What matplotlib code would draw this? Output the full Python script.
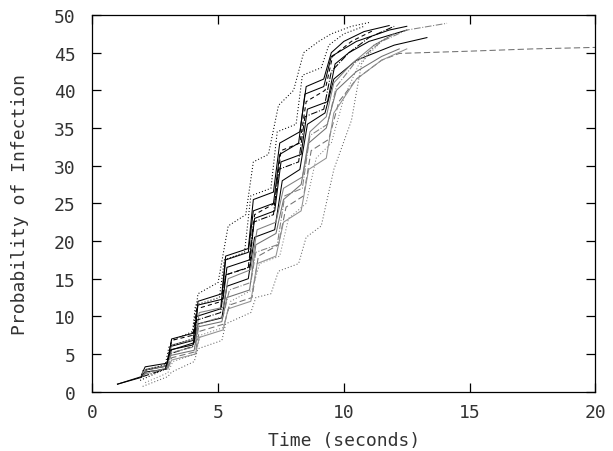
import matplotlib
matplotlib.use('Agg')
import matplotlib.pyplot as plt

# each run: time points and probability values
runs = [
    # (x, y, color, linestyle)
    ([1.0, 1.95, 2.15, 2.95, 3.15, 4.0, 4.2, 5.15, 5.35, 6.2, 6.45, 7.25, 7.55, 8.25, 8.55, 9.25, 9.6, 10.5, 12.0, 13.3],
     [1.0, 2.0, 2.9, 3.4, 5.6, 6.2, 9.0, 9.8, 14.0, 15.0, 20.5, 21.5, 28.0, 29.5, 35.5, 37.0, 41.5, 44.0, 46.0, 47.0],
     'black', '-'),
    ([1.0, 1.95, 2.1, 2.95, 3.1, 4.0, 4.15, 5.1, 5.3, 6.2, 6.4, 7.2, 7.45, 8.2, 8.45, 9.2, 9.5, 10.5, 11.8, 12.5],
     [1.0, 1.9, 2.6, 3.0, 6.0, 6.8, 10.0, 11.0, 17.5, 18.5, 24.0, 25.0, 31.5, 33.0, 39.5, 40.5, 44.5, 46.5, 48.0, 48.5],
     'black', '-'),
    ([2.0, 2.15, 2.95, 3.1, 4.05, 4.2, 5.15, 5.35, 6.25, 6.5, 7.3, 7.6, 8.3, 8.6, 9.3, 9.7, 10.5, 11.5, 12.2],
     [2.0, 2.9, 3.4, 4.8, 5.5, 8.6, 9.3, 12.5, 13.5, 19.5, 21.0, 25.5, 27.5, 33.0, 35.0, 40.0, 42.5, 44.5, 45.5],
     '#707070', '-'),
    ([1.95, 2.1, 3.0, 3.15, 4.05, 4.2, 5.2, 5.35, 6.25, 6.45, 7.25, 7.5, 8.3, 8.55, 9.35, 9.65, 10.2, 11.0, 12.5],
     [2.2, 3.3, 3.8, 7.0, 7.8, 11.5, 12.3, 16.5, 17.5, 23.0, 24.0, 30.5, 31.5, 37.5, 38.5, 43.5, 45.0, 46.5, 48.0],
     'black', '-'),
    ([2.0, 2.15, 3.0, 3.15, 4.1, 4.25, 5.2, 5.4, 6.3, 6.55, 7.3, 7.6, 8.35, 8.65, 9.3, 9.6, 10.3, 11.2, 12.0],
     [2.5, 3.0, 3.5, 6.2, 7.0, 10.5, 11.2, 15.0, 16.2, 21.5, 22.5, 27.0, 28.5, 34.5, 36.5, 41.0, 43.5, 46.0, 47.5],
     '#808080', '-'),
    ([2.0, 2.9, 3.05, 4.0, 4.15, 5.1, 5.3, 6.2, 6.4, 7.2, 7.4, 8.2, 8.45, 9.2, 9.5, 10.2, 11.0, 12.0],
     [2.0, 3.0, 5.0, 6.0, 9.5, 10.5, 15.5, 16.5, 22.5, 23.5, 29.5, 30.5, 36.5, 37.5, 42.5, 45.0, 47.0, 48.5],
     'black', '-.'),
    ([2.05, 3.0, 3.15, 4.1, 4.25, 5.2, 5.45, 6.3, 6.5, 7.35, 7.65, 8.35, 8.65, 9.35, 9.7, 10.4, 11.5, 12.5, 14.1],
     [2.3, 3.2, 5.2, 6.0, 9.0, 10.0, 13.5, 14.5, 18.5, 19.5, 26.0, 27.0, 34.0, 35.5, 40.5, 43.5, 46.5, 48.0, 48.9],
     '#808080', '-.'),
    ([2.95, 3.1, 4.05, 4.2, 5.15, 5.3, 6.2, 6.4, 7.2, 7.45, 8.25, 8.5, 9.2, 9.5, 10.0, 10.8, 11.8],
     [3.5, 5.5, 6.5, 12.0, 13.0, 18.0, 19.0, 25.5, 26.5, 33.0, 34.5, 40.5, 41.5, 45.0, 46.5, 47.8, 48.6],
     'black', '-'),
    ([2.0, 2.15, 3.0, 3.15, 4.1, 4.25, 5.25, 5.45, 6.35, 6.6, 7.4, 7.7, 8.4, 8.7, 9.4, 9.8, 10.5, 11.5, 12.2, 15.0, 17.5, 20.0],
     [2.0, 2.6, 3.1, 4.5, 5.3, 8.0, 9.0, 11.5, 12.5, 18.0, 19.5, 24.5, 26.0, 32.0, 33.5, 38.5, 41.5, 44.0, 44.9, 45.2, 45.5, 45.7],
     '#707070', (0, (6, 3))),
    ([3.0, 3.15, 4.0, 4.15, 5.15, 5.3, 6.25, 6.45, 7.25, 7.5, 8.25, 8.5, 9.25, 9.55, 10.3, 11.2],
     [4.2, 6.8, 7.5, 11.0, 12.0, 15.5, 16.5, 23.5, 25.0, 32.0, 33.0, 38.5, 40.0, 44.5, 46.5, 48.0],
     'black', (0, (4, 3))),
    ([2.1, 3.0, 3.2, 4.1, 4.3, 5.2, 5.5, 6.35, 6.65, 7.45, 7.8, 8.5, 8.9, 9.5, 10.0, 10.6, 11.5],
     [1.2, 2.5, 4.0, 5.0, 7.5, 8.5, 12.0, 13.5, 17.0, 18.0, 23.0, 25.0, 31.0, 33.0, 39.0, 43.5, 46.5],
     '#808080', (0, (1, 2))),
    ([2.0, 2.9, 3.05, 3.95, 4.1, 5.05, 5.25, 6.05, 6.3, 7.1, 7.35, 8.1, 8.35, 9.1, 9.4, 10.0, 10.8],
     [2.8, 3.6, 6.0, 7.0, 11.5, 12.5, 17.5, 18.5, 26.0, 27.0, 34.5, 35.5, 42.0, 43.0, 46.0, 47.5, 48.5],
     'black', (0, (1, 2))),
    ([3.0, 3.15, 4.1, 4.25, 5.2, 5.4, 6.3, 6.55, 7.3, 7.6, 8.3, 8.6, 9.3, 9.6, 10.5, 11.5, 12.5],
     [3.0, 4.2, 5.0, 7.2, 8.2, 11.0, 12.0, 17.0, 18.0, 22.5, 24.0, 29.5, 31.0, 37.0, 41.5, 44.0, 45.5],
     '#909090', '-'),
    # upper and lower dotted envelopes
    ([1.9, 2.9, 3.15, 4.0, 4.2, 5.0, 5.4, 6.1, 6.4, 7.0, 7.4, 8.0, 8.4, 9.0, 9.5, 10.3, 11.0],
     [1.5, 3.0, 6.8, 8.0, 13.0, 14.5, 22.0, 23.5, 30.5, 31.5, 38.0, 40.0, 45.0, 46.5, 47.5, 48.5, 49.0],
     'black', (0, (1, 2))),
    ([2.0, 3.0, 3.15, 4.05, 4.2, 5.15, 5.3, 6.3, 6.5, 7.1, 7.4, 8.2, 8.5, 9.1, 9.6, 10.3, 10.7, 11.2, 12.0],
     [0.7, 2.0, 2.6, 4.0, 5.7, 6.8, 9.0, 10.5, 12.5, 13.0, 16.0, 17.0, 20.5, 22.0, 29.5, 36.0, 43.5, 46.0, 47.5],
     '#606060', (0, (1, 2))),
]

xticks = [0, 5, 10, 15, 20]
yticks = [0, 5, 10, 15, 20, 25, 30, 35, 40, 45, 50]

plt.rcParams['font.family'] = ['DejaVu Sans Mono']

fig = plt.figure(figsize=(6.13, 4.52), dpi=100)
ax = fig.add_axes([0.1506, 0.1312, 0.8208, 0.8334])

for x, y, c, ls in runs:
    ax.plot(x, y, color=c, linestyle=ls, linewidth=0.75)

ax.set_xlim(0, 20)
ax.set_ylim(0, 50)
ax.set_xticks(xticks)
ax.set_yticks(yticks)
ax.tick_params(direction='in', length=6.5, width=0.9, top=True, right=True,
               labelsize=13, labelcolor='#333333')
ax.tick_params(axis='x', pad=8)
ax.tick_params(axis='y', pad=12)
for s in ax.spines.values():
    s.set_linewidth(0.9)

ax.set_xlabel('Time (seconds)', fontsize=13, color='#333333')
ax.set_ylabel('Probability of Infection', fontsize=13, color='#333333')
ax.xaxis.set_label_coords(0.5, -0.105)
ax.yaxis.set_label_coords(-0.125, 0.5)

plt.savefig('out.png', dpi=100)
